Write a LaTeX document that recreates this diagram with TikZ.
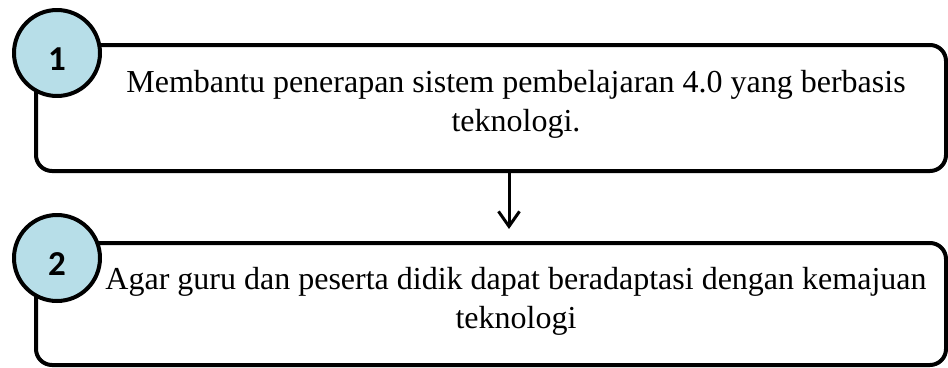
\documentclass[tikz,border=0pt]{standalone}
\usepackage{fontspec}
\setmainfont{Liberation Serif}
\newfontfamily\numfont{Carlito}
\usetikzlibrary{arrows.meta}
\definecolor{numblue}{RGB}{183,222,232}
\begin{document}
\begin{tikzpicture}[x=1pt, y=-1pt, line join=round, line cap=round,
		>={Straight Barb[length=15pt,width=21pt]},
		stepbox/.style={draw, line width=4pt, rounded corners=16pt, minimum width=910pt, inner sep=0pt},
		numcirc/.style={circle, draw, line width=4pt, fill=numblue, minimum size=86pt, inner sep=0pt},
		numtxt/.style={font=\numfont\bfseries\fontsize{35}{35}\selectfont},
		steptxt/.style={align=center, inner sep=0pt, font=\fontsize{32}{39}\selectfont},
		flow/.style={->, line width=3pt}]
		\useasboundingbox (0,0) rectangle (948,367);
		\node[stepbox, minimum height=126pt] (box1) at (491,108) {};
		\node[stepbox, minimum height=122pt] (box2) at (491,304) {};
		\draw[flow] ([xshift=18pt]box1.south) -- ([xshift=18pt,yshift=12pt]box2.north);
		\node[numcirc] (c1) at (57,53) {};
		\node[numcirc] (c2) at (57,258) {};
		\node[numtxt] (n1) at ([yshift=-6pt]c1) {1};
		\node[numtxt] (n2) at ([yshift=-6pt]c2) {2};
		\node[steptxt] (t1) at (516,104) {Membantu penerapan sistem pembelajaran 4.0 yang berbasis\\teknologi.};
		\node[steptxt] (t2) at (516,301) {Agar guru dan peserta didik dapat beradaptasi dengan kemajuan\\teknologi};
\end{tikzpicture}
\end{document}
